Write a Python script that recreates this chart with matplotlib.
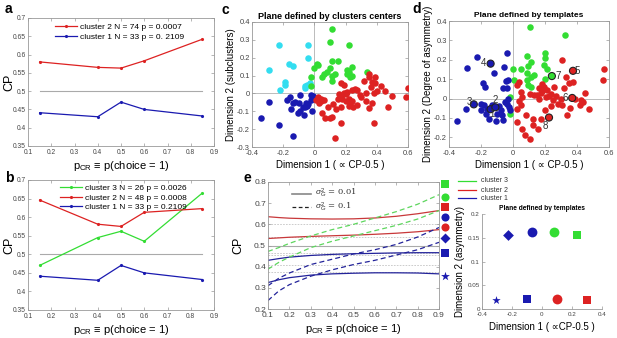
import matplotlib
matplotlib.use("Agg")
import matplotlib.pyplot as plt
from matplotlib.lines import Line2D

plt.rcParams['font.family'] = ['Liberation Sans', 'DejaVu Sans']
plt.rcParams['mathtext.fontset'] = 'custom'
plt.rcParams['mathtext.rm'] = 'Liberation Sans'
plt.rcParams['mathtext.it'] = 'Liberation Sans:italic'

RED = '#dd2222'
BLUE = '#1a1ab0'
GREEN = '#33dd33'
CYAN = '#33ddf0'
EDGE = '#999999'
TICKC = '#444444'

# ---------------- data ----------------
p_cr = [0.15, 0.4, 0.5, 0.6, 0.85]
a_cluster2 = [0.58, 0.565, 0.563, 0.583, 0.642]
a_cluster1 = [0.441, 0.43, 0.47, 0.45, 0.432]
b_cluster3 = [0.47, 0.545, 0.562, 0.535, 0.665]
b_cluster2 = [0.646, 0.581, 0.575, 0.613, 0.623]
b_cluster1 = [0.441, 0.43, 0.47, 0.45, 0.432]

c_cyan_x = [-0.23, -0.04, -0.04, -0.29, -0.16, -0.14, -0.19, -0.19, -0.22, -0.05, -0.03, -0.06, -0.06]
c_cyan_y = [0.27, 0.27, 0.20, 0.13, 0.165, 0.155, 0.065, 0.05, 0.02, 0.05, 0.06, 0.04, 0.03]
c_green_x = [0.11, 0.10, 0.22, 0.02, 0.00, 0.11, 0.15, 0.10, 0.08, 0.11, 0.11, 0.06, 0.05, -0.02,
             -0.02, 0.21, 0.22, 0.24, 0.21, 0.24, 0.34, 0.23, 0.13, 0.015]
c_green_y = [0.36, 0.29, 0.27, 0.16, 0.14, 0.18, 0.18, 0.14, 0.12, 0.10, 0.07, 0.11, 0.09, 0.09,
             0.04, 0.13, 0.12, 0.15, 0.11, 0.10, 0.12, 0.09, 0.11, 0.165]
c_blue_x = [-0.29, -0.345, -0.23, -0.135, -0.175, -0.155, -0.095, -0.14, -0.15, -0.105, -0.09, -0.065,
            -0.06, -0.055, -0.04, -0.02, -0.02, -0.007, -0.017, -0.074, -0.05, -0.096, -0.123]
c_blue_y = [-0.05, -0.14, -0.175, -0.24, -0.037, -0.02, -0.01, -0.055, -0.085, -0.11, -0.10, -0.12,
            -0.078, -0.052, -0.06, -0.037, -0.01, -0.015, -0.10, -0.074, -0.07, -0.052, -0.046]
c_red_x = [0.17, 0.19, 0.24, 0.27, 0.30, 0.33, 0.35, 0.39, 0.37, 0.39, 0.36, 0.43, 0.45, 0.40, 0.38,
           0.50, 0.47, 0.60, 0.59, 0.37, 0.35, 0.38, 0.13, 0.17, 0.11, 0.04, 0.03, 0.06, 0.05, 0.09,
           0.07, 0.10, 0.14, 0.17, 0.18, 0.22, 0.20, 0.24, 0.22, 0.25, 0.17, 0.15, 0.20, 0.16, 0.27,
           0.02, 0.01, 0.04, 0.21, 0.19, 0.23, 0.12, 0.26, 0.32, 0.35, 0.33, 0.29]
c_red_y = [0.06, 0.046, 0.02, 0.02, -0.02, -0.04, 0.11, 0.09, 0.065, 0.06, 0.035, 0.04, 0.015, 0.015,
           0.005, -0.015, -0.075, 0.03, -0.02, -0.055, -0.08, -0.165, -0.25, -0.165, -0.13, -0.03,
           -0.055, -0.035, -0.11, -0.075, -0.14, -0.14, -0.085, -0.075, -0.03, -0.03, -0.005, -0.04,
           -0.07, -0.075, -0.02, -0.03, -0.045, -0.005, -0.065, -0.02, -0.035, -0.045, 0.01, 0.0,
           -0.055, -0.06, 0.025, 0.07, 0.09, 0.0, -0.01]

d_blue_x = [-0.056, -0.035, -0.223, -0.29, -0.12, -0.19, -0.177, -0.046, -0.031, -0.06, -0.04, -0.031,
            -0.035, -0.352, -0.296, -0.181, -0.16, -0.169, -0.15, -0.108, -0.067, -0.025, -0.088,
            -0.077, -0.2, -0.13, -0.05, -0.02, -0.1, -0.06, -0.2]
d_blue_y = [0.164, 0.236, 0.212, 0.155, 0.133, 0.081, 0.057, 0.091, 0.095, 0.052, 0.052, 0.0, -0.026,
            -0.116, -0.055, -0.034, -0.052, -0.078, -0.103, -0.116, -0.086, -0.043, -0.04, -0.06,
            -0.03, -0.035, -0.02, -0.06, -0.08, -0.11, -0.06]
d_green_x = [0.104, 0.325, 0.198, 0.2, 0.09, 0.115, 0.094, 0.052, -0.002, 0.09, 0.11, 0.085, 0.11,
             0.094, 0.192, 0.215, 0.006, -0.019, -0.021, 0.2, 0.13]
d_green_y = [0.367, 0.328, 0.233, 0.207, 0.219, 0.186, 0.169, 0.15, 0.15, 0.133, 0.112, 0.095, 0.057,
             0.069, 0.172, 0.152, 0.098, 0.009, -0.078, 0.1, 0.12]
d_red_x = [0.308, 0.569, 0.565, 0.35, 0.375, 0.319, 0.256, 0.45, 0.423, 0.417, 0.475, 0.304, 0.356,
           0.34, 0.235, 0.163, 0.183, 0.194, 0.215, 0.173, 0.152, 0.131, 0.106, 0.204, 0.225, 0.235,
           0.267, 0.037, 0.027, 0.048, 0.058, 0.037, 0.048, 0.027, 0.023, 0.083, 0.125, 0.054, 0.073,
           0.106, 0.127, 0.158, 0.173, 0.25, 0.18, 0.16, 0.3, 0.39, 0.2, 0.28, 0.44, 0.33]
d_red_y = [0.198, 0.15, 0.098, 0.081, 0.086, 0.052, 0.057, 0.029, -0.005, -0.034, -0.052, -0.034,
           -0.047, -0.083, -0.04, 0.052, 0.074, 0.06, 0.043, 0.026, 0.017, 0.017, 0.021, 0.009, 0.012,
           0.022, 0.012, 0.086, 0.069, 0.034, 0.009, -0.012, -0.034, -0.052, -0.121, -0.086, -0.103,
           -0.155, -0.19, -0.207, -0.138, -0.155, -0.103, -0.01, 0.04, 0.0, 0.0, 0.0, -0.06, -0.03,
           -0.02, 0.11]
# templates highlighted in d
tmpl_labels = ['1', '2', '3', '4', '5', '6', '7', '8']
tmpl_x = [-0.14, -0.11, -0.245, -0.14, 0.375, 0.37, 0.243, 0.225]
tmpl_y = [-0.055, -0.045, -0.03, 0.18, 0.143, 0.003, 0.116, -0.098]
tmpl_col = [BLUE, BLUE, BLUE, BLUE, RED, RED, GREEN, RED]
tmpl_lab_x = [-0.129, -0.108, -0.273, -0.185, 0.402, 0.325, 0.283, 0.204]
tmpl_lab_y = [-0.078, -0.005, -0.017, 0.184, 0.143, 0.005, 0.116, -0.143]

# panel e model curves
e_x = [0.1, 0.15, 0.2, 0.3, 0.4, 0.5, 0.6, 0.7, 0.8, 0.9]
e_red_hi = [0.636, 0.632, 0.629, 0.626, 0.625, 0.626, 0.630, 0.638, 0.650, 0.665]
e_red_lo = [0.533, 0.536, 0.539, 0.543, 0.546, 0.549, 0.553, 0.558, 0.565, 0.575]
e_blue_hi = [0.430, 0.438, 0.445, 0.453, 0.458, 0.461, 0.463, 0.465, 0.466, 0.466]
e_blue_lo = [0.325, 0.338, 0.348, 0.360, 0.366, 0.369, 0.371, 0.371, 0.370, 0.366]
e_green_hi_d = [0.472, 0.490, 0.510, 0.545, 0.575, 0.600, 0.630, 0.660, 0.695, 0.740]
e_green_lo_d = [0.388, 0.420, 0.445, 0.490, 0.520, 0.545, 0.570, 0.595, 0.625, 0.665]
e_blue_hi_d = [0.310, 0.345, 0.370, 0.410, 0.435, 0.460, 0.480, 0.505, 0.540, 0.585]
e_blue_lo_d = [0.240, 0.285, 0.315, 0.355, 0.385, 0.410, 0.430, 0.455, 0.480, 0.515]
e_ref_levels = [0.6, 0.54, 0.465, 0.455, 0.41, 0.375]
e_mark_y = [0.79, 0.729, 0.682, 0.635, 0.587, 0.535, 0.465, 0.356]
e_mark_m = ['s', 'o', 's', 'o', 'o', 'D', 's', '*']
e_mark_c = [GREEN, GREEN, RED, BLUE, RED, BLUE, BLUE, BLUE]

# inset
ins_x = [-0.23, -0.07, 0.08, 0.23, -0.31, -0.1, 0.1, 0.3]
ins_y = [0.156, 0.162, 0.162, 0.156, 0.02, 0.022, 0.022, 0.02]
ins_m = ['D', 'o', 'o', 's', '*', 's', 'o', 's']
ins_c = [BLUE, BLUE, GREEN, GREEN, BLUE, BLUE, RED, RED]
ins_s = [30, 50, 50, 28, 40, 28, 50, 28]

W, H = 617, 338
fig = plt.figure(figsize=(W / 100, H / 100), dpi=100)


def rect(l, r, t, b):
    return [l / W, 1 - b / H, (r - l) / W, (b - t) / H]


def style(ax, fs=4.8):
    for s in ax.spines.values():
        s.set_color(EDGE)
        s.set_linewidth(0.6)
    ax.tick_params(direction='in', length=2, width=0.5, colors=EDGE, labelcolor=TICKC,
                   labelsize=fs, pad=1.5, top=True, right=True)
    ax.tick_params(axis='x', pad=2.5)


xlab = r'$\mathregular{p_{CR}}$ ≡ p(choice = 1)'

# ---- panel a ----
axa = fig.add_axes(rect(28, 214, 18, 146))
axa.plot([0.15, 0.85], [0.5, 0.5], color='#aaaaaa', lw=0.8)
axa.plot(p_cr, a_cluster2, color=RED, lw=0.9, marker='.', ms=2.5, label='cluster 2 N = 74 p = 0.0007')
axa.plot(p_cr, a_cluster1, color=BLUE, lw=0.9, marker='.', ms=2.5, label='cluster 1 N = 33 p = 0. 2109')
axa.set_xlim(0.1, 0.9)
axa.set_ylim(0.35, 0.7)
axa.set_xticks([0.1, 0.2, 0.3, 0.4, 0.5, 0.6, 0.7, 0.8, 0.9])
axa.set_yticks([0.35, 0.4, 0.45, 0.5, 0.55, 0.6, 0.65, 0.7])
axa.set_xticklabels(['0.1', '0.2', '0.3', '0.4', '0.5', '0.6', '0.7', '0.8', '0.9'])
axa.set_yticklabels(['0.35', '0.4', '0.45', '0.5', '0.55', '0.6', '0.65', '0.7'])
style(axa)
axa.legend(loc='upper left', bbox_to_anchor=(0.12, 1.0), frameon=False, fontsize=6,
           handlelength=2.6, handletextpad=0.4, labelspacing=0.25, borderaxespad=0.2)
axa.set_ylabel('CP', fontsize=9)
axa.yaxis.set_label_coords(-0.07, 0.5)
axa.set_xlabel(xlab, fontsize=8, labelpad=2)
fig.text(5 / W, 1 - 9 / H, 'a', fontsize=10, fontweight='bold', va='center')

# ---- panel b ----
axb = fig.add_axes(rect(28, 214, 180, 310))
axb.plot([0.15, 0.85], [0.5, 0.5], color='#aaaaaa', lw=0.8)
axb.plot(p_cr, b_cluster3, color=GREEN, lw=0.9, marker='.', ms=2.5, label='cluster 3 N = 26 p = 0.0026')
axb.plot(p_cr, b_cluster2, color=RED, lw=0.9, marker='.', ms=2.5, label='cluster 2 N = 48 p = 0.0008')
axb.plot(p_cr, b_cluster1, color=BLUE, lw=0.9, marker='.', ms=2.5, label='cluster 1 N = 33 p = 0.2109')
axb.set_xlim(0.1, 0.9)
axb.set_ylim(0.35, 0.7)
axb.set_xticks([0.1, 0.2, 0.3, 0.4, 0.5, 0.6, 0.7, 0.8, 0.9])
axb.set_yticks([0.35, 0.4, 0.45, 0.5, 0.55, 0.6, 0.65, 0.7])
axb.set_xticklabels(['0.1', '0.2', '0.3', '0.4', '0.5', '0.6', '0.7', '0.8', '0.9'])
axb.set_yticklabels(['0.35', '0.4', '0.45', '0.5', '0.55', '0.6', '0.65', '0.7'])
style(axb)
axb.legend(loc='upper left', bbox_to_anchor=(0.15, 1.0), frameon=False, fontsize=6,
           handlelength=2.6, handletextpad=0.4, labelspacing=0.2, borderaxespad=0.1)
axb.set_ylabel('CP', fontsize=9)
axb.yaxis.set_label_coords(-0.07, 0.5)
axb.set_xlabel(xlab, fontsize=8, labelpad=2)
fig.text(5 / W, 1 - 178 / H, 'b', fontsize=10, fontweight='bold', va='center')

# ---- panel c ----
axc = fig.add_axes(rect(252, 408, 22, 147))
axc.axhline(0, color='#bbbbbb', lw=0.7, zorder=0)
axc.axvline(0, color='#bbbbbb', lw=0.7, zorder=0)
for xs, ys, col in [(c_cyan_x, c_cyan_y, CYAN), (c_green_x, c_green_y, GREEN),
                    (c_blue_x, c_blue_y, BLUE), (c_red_x, c_red_y, RED)]:
    axc.scatter(xs, ys, s=22, color=col, linewidths=0, zorder=3)
axc.set_xlim(-0.4, 0.6)
axc.set_ylim(-0.3, 0.4)
axc.set_xticks([-0.4, -0.2, 0, 0.2, 0.4, 0.6])
axc.set_xticklabels(['-0.4', '-0.2', '0', '0.2', '0.4', '0.6'])
axc.set_yticks([-0.3, -0.2, -0.1, 0, 0.1, 0.2, 0.3, 0.4])
axc.set_yticklabels(['-0.3', '-0.2', '-0.1', '0', '0.1', '0.2', '0.3', '0.4'])
style(axc, fs=5.4)
axc.set_title('Plane defined by clusters centers', fontsize=6.5, fontweight='bold', pad=2)
axc.set_xlabel('Dimension 1 ( ∝ CP-0.5 )', fontsize=7, labelpad=1.5)
axc.set_ylabel('Dimension 2 (subclusters)', fontsize=7, labelpad=1)
fig.text(221 / W, 1 - 10 / H, 'c', fontsize=10, fontweight='bold', va='center')

# ---- panel d ----
axd = fig.add_axes(rect(449, 609, 21, 147))
axd.axhline(0, color='#bbbbbb', lw=0.7, zorder=0)
axd.axvline(0, color='#bbbbbb', lw=0.7, zorder=0)
for xs, ys, col in [(d_green_x, d_green_y, GREEN), (d_blue_x, d_blue_y, BLUE), (d_red_x, d_red_y, RED)]:
    axd.scatter(xs, ys, s=22, color=col, linewidths=0, zorder=3)
axd.scatter(tmpl_x, tmpl_y, s=26, c=tmpl_col, edgecolors='#222222', linewidths=0.8, zorder=4)
for lab, lx, ly in zip(tmpl_labels, tmpl_lab_x, tmpl_lab_y):
    axd.text(lx, ly, lab, fontsize=7, color='#333333', ha='center', va='center', zorder=5)
axd.set_xlim(-0.4, 0.6)
axd.set_ylim(-0.25, 0.4)
axd.set_xticks([-0.4, -0.2, 0, 0.2, 0.4, 0.6])
axd.set_xticklabels(['-0.4', '-0.2', '0', '0.2', '0.4', '0.6'])
axd.set_yticks([-0.2, -0.1, 0, 0.1, 0.2, 0.3, 0.4])
axd.set_yticklabels(['-0.2', '-0.1', '0', '0.1', '0.2', '0.3', '0.4'])
style(axd, fs=5.4)
axd.set_title('Plane defined by templates', fontsize=6, fontweight='bold', pad=3)
axd.set_xlabel('Dimension 1 ( ∝ CP-0.5 )', fontsize=7, labelpad=1.5)
axd.set_ylabel('Dimension 2 (Degree of asymmetry)', fontsize=7, labelpad=1)
fig.text(412 / W, 1 - 9 / H, 'd', fontsize=10, fontweight='bold', va='center')

# ---- panel e ----
axe = fig.add_axes(rect(268, 439, 182, 309))
for lv in e_ref_levels:
    axe.axhline(lv, color='#c4c4c4', lw=0.6, ls=(0, (2, 1.5)), zorder=1)
axe.axhline(0.5, color='#aaaaaa', lw=0.8, zorder=1)
ERED = '#c8383a'
EBLUE = '#23239a'
EGREEN = '#5ed65e'
axe.plot(e_x, e_red_hi, color=ERED, lw=0.9)
axe.plot(e_x, e_red_lo, color=ERED, lw=0.9)
axe.plot(e_x, e_blue_hi, color=EBLUE, lw=0.9)
axe.plot(e_x, e_blue_lo, color=EBLUE, lw=0.9)
axe.plot(e_x, e_green_hi_d, color=EGREEN, lw=0.9, ls=(0, (4, 2.5)))
axe.plot(e_x, e_green_lo_d, color=EGREEN, lw=0.9, ls=(0, (4, 2.5)))
axe.plot(e_x, e_blue_hi_d, color=EBLUE, lw=0.9, ls=(0, (4, 2.5)))
axe.plot(e_x, e_blue_lo_d, color=EBLUE, lw=0.9, ls=(0, (4, 2.5)))
mx = 0.1 + (445 - 268) / 213.75
for yv, mk, cl in zip(e_mark_y, e_mark_m, e_mark_c):
    sz = {'s': 28, 'o': 34, 'D': 26, '*': 45}[mk]
    axe.scatter([mx], [yv], marker=mk, s=sz, color=cl, linewidths=0, clip_on=False, zorder=5)
# sigma legend
axe.plot([0.21, 0.30], [0.745, 0.745], color='#888888', lw=1.2)
axe.plot([0.21, 0.30], [0.68, 0.68], color='#222222', lw=0.9, ls=(0, (3, 2)))
axe.text(0.32, 0.745, r'$\sigma_G^2$ = 0.01', fontsize=6, va='center', color='#333333',
         family=['DejaVu Serif'])
axe.text(0.32, 0.68, r'$\sigma_G^2$ = 0.1', fontsize=6, va='center', color='#333333',
         family=['DejaVu Serif'])
axe.set_xlim(0.1, 0.9)
axe.set_ylim(0.2, 0.8)
axe.set_xticks([0.1, 0.2, 0.3, 0.4, 0.5, 0.6, 0.7, 0.8, 0.9])
axe.set_xticklabels(['0.1', '0.2', '0.3', '0.4', '0.5', '0.6', '0.7', '0.8', '0.9'])
axe.set_yticks([0.2, 0.3, 0.4, 0.5, 0.6, 0.7, 0.8])
axe.set_yticklabels(['0.2', '0.3', '0.4', '0.5', '0.6', '0.7', '0.8'])
style(axe, fs=6.0)
axe.set_ylabel('CP', fontsize=9)
axe.yaxis.set_label_coords(-0.14, 0.5)
axe.set_xlabel(xlab, fontsize=8, labelpad=1.5)
fig.text(243 / W, 1 - 178 / H, 'e', fontsize=10, fontweight='bold', va='center')

# cluster legend (right of e)
leg_names = ['cluster 3', 'cluster 2', 'cluster 1']
leg_cols = [GREEN, RED, BLUE]
leg_y = [181, 190, 198]
for nm, cl, yy in zip(leg_names, leg_cols, leg_y):
    fig.add_artist(Line2D([458 / W, 476 / W], [1 - yy / H, 1 - yy / H], color=cl, lw=0.9))
    fig.text(481 / W, 1 - yy / H, nm, fontsize=5, va='center', color='#333333')

# ---- inset ----
axi = fig.add_axes(rect(482, 602, 214, 309))
for xv, yv, mk, cl, sz in zip(ins_x, ins_y, ins_m, ins_c, ins_s):
    axi.scatter([xv], [yv], marker=mk, s=sz, color=cl, linewidths=0, zorder=3)
axi.set_xlim(-0.4, 0.4)
axi.set_ylim(0, 0.2)
axi.set_xticks([-0.4, -0.2, 0, 0.2, 0.4])
axi.set_xticklabels(['-0.4', '-0.2', '0', '0.2', '0.4'])
axi.set_yticks([0, 0.05, 0.1, 0.15, 0.2])
axi.set_yticklabels(['0', '0.05', '0.1', '0.15', '0.2'])
style(axi, fs=4.5)
axi.spines['top'].set_visible(False)
axi.spines['right'].set_visible(False)
axi.tick_params(top=False, right=False)
axi.set_title('Plane defined by templates', fontsize=4.8, fontweight='bold', pad=3)
axi.set_xlabel('Dimension 1 ( ∝CP-0.5 )', fontsize=7, labelpad=3)
axi.set_ylabel('Dimension 2 (asymmetry)', fontsize=7, labelpad=2)

fig.savefig('out.png', dpi=100)
